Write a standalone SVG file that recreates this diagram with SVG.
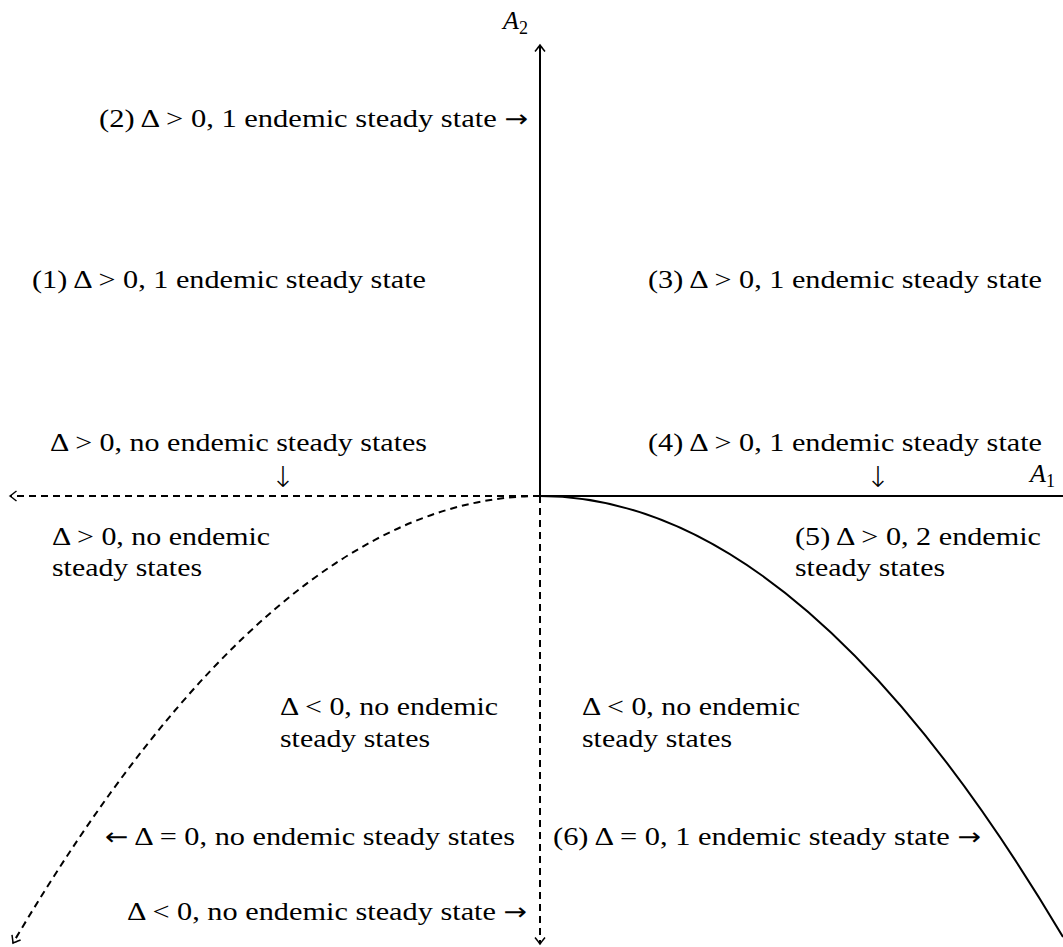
<svg xmlns="http://www.w3.org/2000/svg" width="1063" height="947" viewBox="0 0 1063 947">
<style>
text{font-family:"Liberation Serif","DejaVu Serif",serif;font-size:26px;fill:#000}
.it{font-style:italic}
.ar{font-family:"DejaVu Sans",sans-serif;font-size:24px}
.dn{font-family:"DejaVu Sans",sans-serif;font-size:29px;font-weight:300}
.ax{stroke:#000;stroke-width:2;fill:none}
.da{stroke:#000;stroke-width:2;fill:none;stroke-dasharray:7 5}
</style>
<defs>
<marker id="ar" viewBox="-8 -6 10 12" markerWidth="10" markerHeight="12" refX="0" refY="0" orient="auto" markerUnits="userSpaceOnUse">
<path d="M-6.5,-5 Q-1.5,-1 0,0 Q-1.5,1 -6.5,5" fill="none" stroke="#000" stroke-width="1.5"/>
</marker>
</defs>
<rect width="1063" height="947" fill="#fff"/>
<g id="connectors">
<path class="ax" d="M540,496 V45" marker-end="url(#ar)"/>
<path class="ax" d="M540,496 H1063"/>
<path class="da" d="M540,496 H10" marker-end="url(#ar)"/>
<path class="da" d="M540,496 V944" marker-end="url(#ar)"/>
<path class="da" d="M540,496 Q276.5,496 13,943" marker-end="url(#ar)"/>
<path class="ax" d="M540,496 Q801.5,496 1063,937"/>
</g>
<g id="axis-labels">
<text x="503" y="29" class="it">A<tspan font-style="normal" font-size="18" dy="5">2</tspan></text>
<text x="1030" y="482" class="it">A<tspan font-style="normal" font-size="18" dy="5">1</tspan></text>
</g>
<g id="r2"><text x="99" y="127" textLength="429" lengthAdjust="spacingAndGlyphs">(2) Δ &gt; 0, 1 endemic steady state <tspan class="ar">→</tspan></text></g>
<g id="r1"><text x="32" y="288" textLength="394" lengthAdjust="spacingAndGlyphs">(1) Δ &gt; 0, 1 endemic steady state</text></g>
<g id="r3"><text x="648" y="288" textLength="394" lengthAdjust="spacingAndGlyphs">(3) Δ &gt; 0, 1 endemic steady state</text></g>
<g id="rA"><text x="50" y="451" textLength="377" lengthAdjust="spacingAndGlyphs">Δ &gt; 0, no endemic steady states</text><text class="dn" x="283" y="487" text-anchor="middle">↓</text></g>
<g id="r4"><text x="648" y="451" textLength="394" lengthAdjust="spacingAndGlyphs">(4) Δ &gt; 0, 1 endemic steady state</text><text class="dn" x="878" y="487" text-anchor="middle">↓</text></g>
<g id="rB"><text x="52" y="545" textLength="218" lengthAdjust="spacingAndGlyphs">Δ &gt; 0, no endemic</text><text x="52" y="576" textLength="150" lengthAdjust="spacingAndGlyphs">steady states</text></g>
<g id="r5"><text x="795" y="545" textLength="246" lengthAdjust="spacingAndGlyphs">(5) Δ &gt; 0, 2 endemic</text><text x="795" y="576" textLength="150" lengthAdjust="spacingAndGlyphs">steady states</text></g>
<g id="rC"><text x="280" y="715" textLength="218" lengthAdjust="spacingAndGlyphs">Δ &lt; 0, no endemic</text><text x="280" y="747" textLength="150" lengthAdjust="spacingAndGlyphs">steady states</text></g>
<g id="rD"><text x="582" y="715" textLength="218" lengthAdjust="spacingAndGlyphs">Δ &lt; 0, no endemic</text><text x="582" y="747" textLength="150" lengthAdjust="spacingAndGlyphs">steady states</text></g>
<g id="rE"><text x="105" y="845" textLength="410" lengthAdjust="spacingAndGlyphs"><tspan class="ar">←</tspan> Δ = 0, no endemic steady states</text></g>
<g id="r6"><text x="553" y="845" textLength="428" lengthAdjust="spacingAndGlyphs">(6) Δ = 0, 1 endemic steady state <tspan class="ar">→</tspan></text></g>
<g id="rF"><text x="127" y="920" textLength="400" lengthAdjust="spacingAndGlyphs">Δ &lt; 0, no endemic steady state <tspan class="ar">→</tspan></text></g>
</svg>
